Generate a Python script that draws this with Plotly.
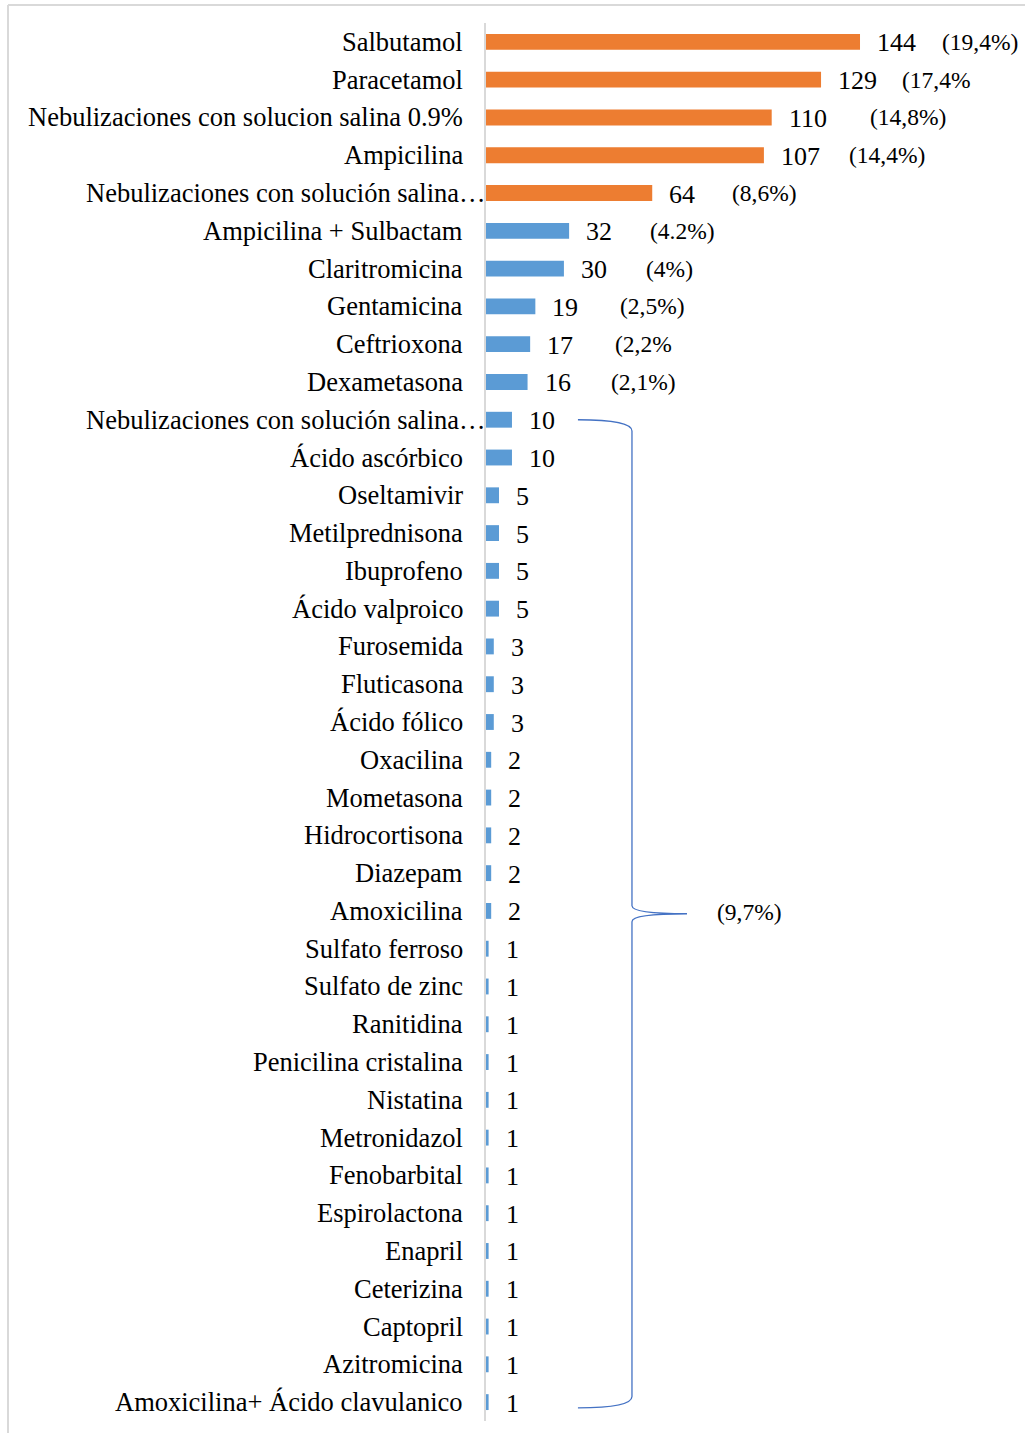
import plotly.graph_objects as go

categories = [
    "Salbutamol", "Paracetamol", "Nebulizaciones con solucion salina 0.9%", "Ampicilina",
    "Nebulizaciones con solución salina…", "Ampicilina + Sulbactam", "Claritromicina",
    "Gentamicina", "Ceftrioxona", "Dexametasona", "Nebulizaciones con solución salina…",
    "Ácido ascórbico", "Oseltamivir", "Metilprednisona", "Ibuprofeno", "Ácido valproico",
    "Furosemida", "Fluticasona", "Ácido fólico", "Oxacilina", "Mometasona", "Hidrocortisona",
    "Diazepam", "Amoxicilina", "Sulfato ferroso", "Sulfato de zinc", "Ranitidina",
    "Penicilina cristalina", "Nistatina", "Metronidazol", "Fenobarbital", "Espirolactona",
    "Enapril", "Ceterizina", "Captopril", "Azitromicina", "Amoxicilina+ Ácido clavulanico",
]
values = [144, 129, 110, 107, 64, 32, 30, 19, 17, 16, 10, 10, 5, 5, 5, 5, 3, 3, 3,
          2, 2, 2, 2, 2, 1, 1, 1, 1, 1, 1, 1, 1, 1, 1, 1, 1, 1]
pct_labels = ["(19,4%)", "(17,4%", "(14,8%)", "(14,4%)", "(8,6%)", "(4.2%)", "(4%)",
              "(2,5%)", "(2,2%", "(2,1%)"]
pct_x = [174.8, 159.4, 147.1, 139.0, 94.0, 62.4, 60.8, 50.8, 48.9, 47.4]
group_label = "(9,7%)"

ORANGE = "#ED7D31"
BLUE = "#5B9BD5"
BRACE = "#4472C4"
FONT = "Liberation Serif"

idx = list(range(len(categories)))
colors = [ORANGE if i < 5 else BLUE for i in idx]

fig = go.Figure()
fig.add_trace(go.Bar(
    x=values, y=idx, orientation="h", marker=dict(color=colors, line=dict(width=0)),
    width=0.42, hoverinfo="skip",
))

ann = []
for i, (c, v) in enumerate(zip(categories, values)):
    trunc = c.endswith("…")
    ann.append(dict(x=0, y=i, xref="x", yref="y", text=c, showarrow=False,
                    xanchor="right", yanchor="middle", xshift=(2 if trunc else -21),
                    font=dict(family=FONT, size=26.5, color="#000")))
    ann.append(dict(x=v, y=i, xref="x", yref="y", text=str(v), showarrow=False,
                    xanchor="left", yanchor="middle", xshift=15, yshift=-1,
                    font=dict(family=FONT, size=26, color="#000")))
for i, (t, px) in enumerate(zip(pct_labels, pct_x)):
    ann.append(dict(x=px, y=i, xref="x", yref="y", text=t, showarrow=False,
                    xanchor="left", yanchor="middle",
                    font=dict(family=FONT, size=23.5, color="#000")))

# brace spanning the remaining group
top, bot = 10, 36.15
mid = (top + bot) / 2
xl, xv, xt = 35.4, 56.2, 77.4
d = 0.21
path = (f"M {xl},{top} Q {xv},{top} {xv},{top+0.3} "
        f"L {xv},{mid-d} Q {xv},{mid} {xt},{mid} "
        f"Q {xv},{mid} {xv},{mid+d} "
        f"L {xv},{bot-0.3} Q {xv},{bot} {xl},{bot}")
shapes = [dict(type="path", path=path, xref="x", yref="y",
               line=dict(color=BRACE, width=1.3))]
ann.append(dict(x=88, y=mid, xref="x", yref="y", text=group_label, showarrow=False,
                xanchor="left", yanchor="middle", yshift=2,
                font=dict(family=FONT, size=23.5, color="#000")))

# outer frame (top and left edges)
W, H = 1025, 1433
L, R, T, B = 486, 5, 23, 12
pw, ph = W - L - R, H - T - B
def px2paper_x(p):
    return (p - L) / pw
def py2paper_y(p):
    return (H - B - p) / ph
shapes.append(dict(type="line", xref="paper", yref="paper",
                   x0=px2paper_x(8), x1=px2paper_x(1030), y0=py2paper_y(5), y1=py2paper_y(5),
                   line=dict(color="#d9d9d9", width=2)))
shapes.append(dict(type="line", xref="paper", yref="paper",
                   x0=px2paper_x(8), x1=px2paper_x(8), y0=py2paper_y(5), y1=py2paper_y(1440),
                   line=dict(color="#d9d9d9", width=2)))

fig.update_layout(
    width=W, height=H, margin=dict(l=L, r=R, t=T, b=B),
    paper_bgcolor="white", plot_bgcolor="white", showlegend=False,
    xaxis=dict(range=[0, 205.6], visible=False, fixedrange=True),
    yaxis=dict(range=[36.5, -0.5], showticklabels=False, showgrid=False, zeroline=False,
               showline=True, linecolor="#d9d9d9", linewidth=2, ticks=""),
    annotations=ann, shapes=shapes,
)
fig.write_html("out.html")
